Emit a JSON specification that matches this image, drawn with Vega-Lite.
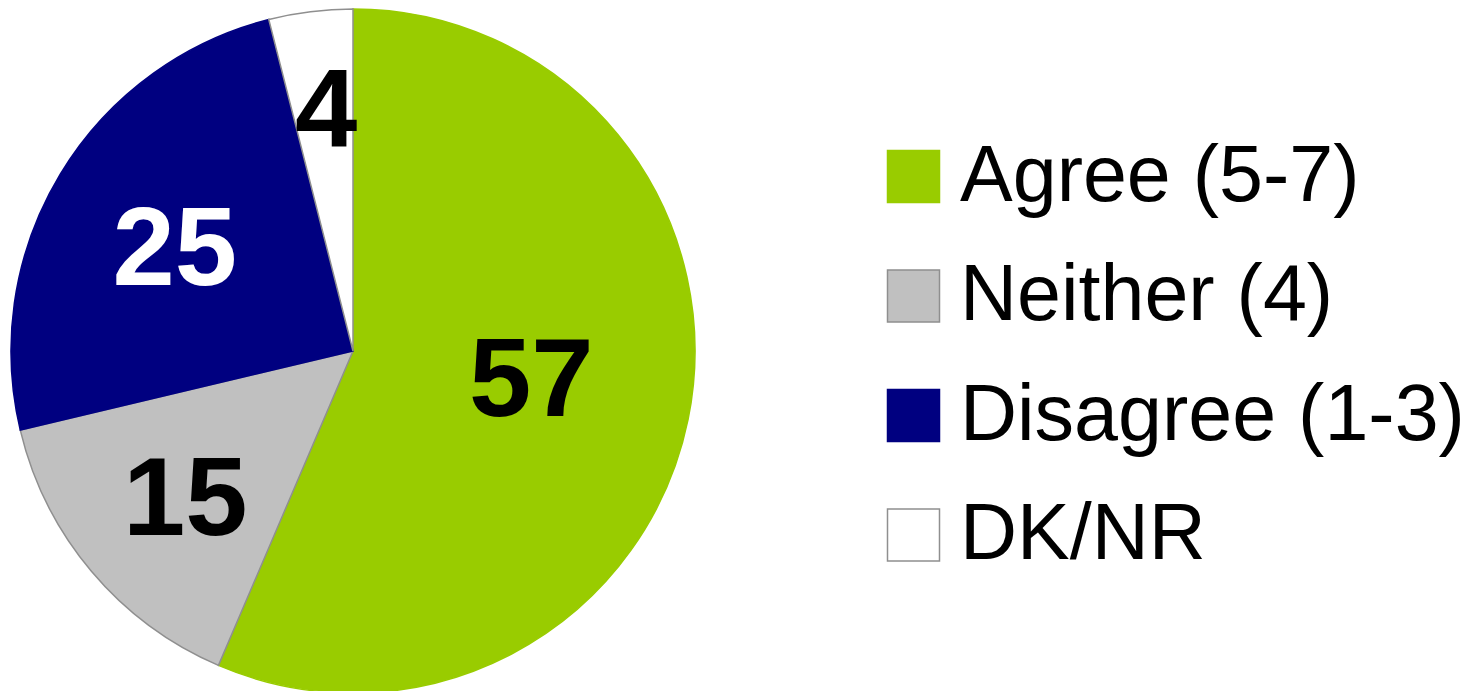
{
  "$schema": "https://vega.github.io/schema/vega-lite/v6.json",
  "width": 706,
  "height": 702,
  "padding": 0,
  "autosize": {"type": "pad"},
  "background": "white",
  "config": {"view": {"stroke": null}},
  "data": {
    "values": [
      {"category": "Agree (5-7)", "value": 57, "order": 1},
      {"category": "Neither (4)", "value": 15, "order": 2},
      {"category": "Disagree (1-3)", "value": 25, "order": 3},
      {"category": "DK/NR", "value": 4, "order": 4}
    ]
  },
  "encoding": {
    "theta": {"field": "value", "type": "quantitative", "stack": true},
    "order": {"field": "order", "type": "quantitative"}
  },
  "layer": [
    {
      "mark": {"type": "arc", "radius": 342, "strokeWidth": 1.5},
      "encoding": {
        "color": {
          "field": "category",
          "type": "nominal",
          "sort": null,
          "scale": {
            "domain": ["Agree (5-7)", "Neither (4)", "Disagree (1-3)", "DK/NR"],
            "range": ["#99CC00", "#C0C0C0", "#000080", "#FFFFFF"]
          },
          "legend": {
            "title": null,
            "orient": "none",
            "legendX": 874,
            "legendY": 137,
            "padding": 0,
            "symbolType": "square",
            "symbolSize": 2704,
            "symbolStrokeWidth": 1.5,
            "symbolOpacity": 1,
            "labelFont": "Liberation Sans",
            "labelFontSize": 79,
            "labelColor": "#000000",
            "labelOffset": 7,
            "rowPadding": 39.5,
            "labelLimit": 1000
          }
        },
        "stroke": {
          "field": "category",
          "type": "nominal",
          "sort": null,
          "scale": {
            "domain": ["Agree (5-7)", "Neither (4)", "Disagree (1-3)", "DK/NR"],
            "range": ["#99CC00", "#8F8F8F", "#000080", "#8F8F8F"]
          }
        }
      }
    },
    {
      "mark": {"type": "text", "radius": 179, "dx": 3, "dy": -5, "font": "Liberation Sans", "fontWeight": "bold", "fontSize": 112, "baseline": "middle", "align": "center", "color": "#000000"},
      "encoding": {
        "text": {"condition": {"test": "datum.category === 'Agree (5-7)'", "field": "value", "type": "quantitative"}, "value": ""}
      }
    },
    {
      "mark": {"type": "text", "radius": 222, "dx": 2, "dy": 7, "font": "Liberation Sans", "fontWeight": "bold", "fontSize": 112, "baseline": "middle", "align": "center", "color": "#000000"},
      "encoding": {
        "text": {"condition": {"test": "datum.category === 'Neither (4)'", "field": "value", "type": "quantitative"}, "value": ""}
      }
    },
    {
      "mark": {"type": "text", "radius": 206, "dx": -2, "dy": 7, "font": "Liberation Sans", "fontWeight": "bold", "fontSize": 112, "baseline": "middle", "align": "center", "color": "#FFFFFF"},
      "encoding": {
        "text": {"condition": {"test": "datum.category === 'Disagree (1-3)'", "field": "value", "type": "quantitative"}, "value": ""}
      }
    },
    {
      "mark": {"type": "text", "radius": 241, "dx": 3, "dy": 1, "font": "Liberation Sans", "fontWeight": "bold", "fontSize": 112, "baseline": "middle", "align": "center", "color": "#000000"},
      "encoding": {
        "text": {"condition": {"test": "datum.category === 'DK/NR'", "field": "value", "type": "quantitative"}, "value": ""}
      }
    }
  ]
}
